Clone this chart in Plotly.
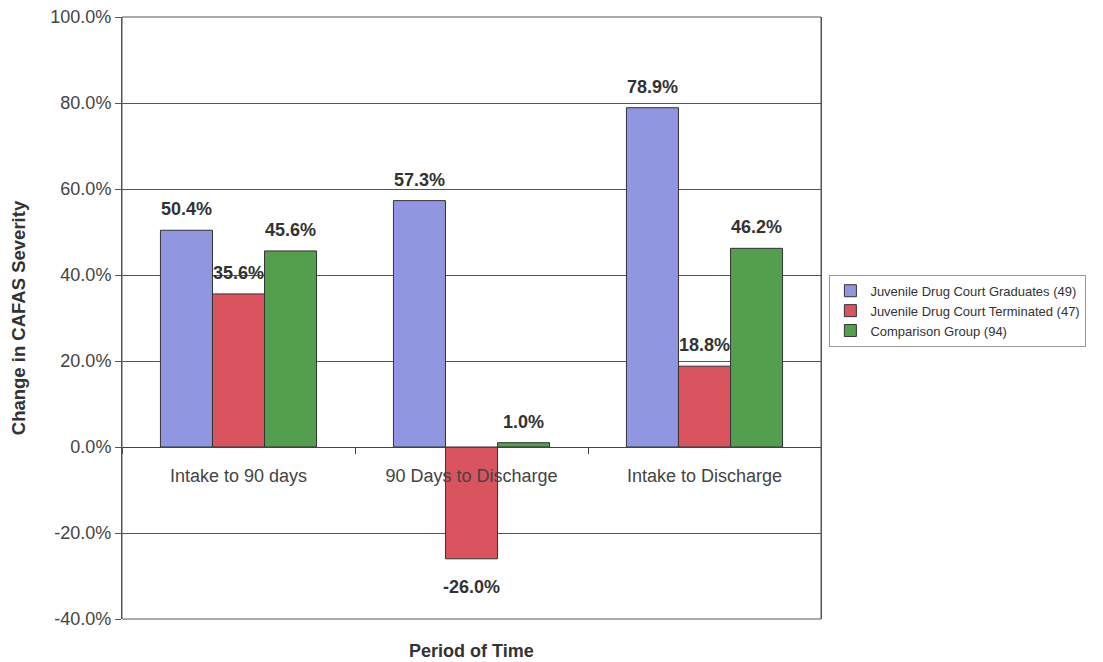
import plotly.graph_objects as go

categories = ["Intake to 90 days", "90 Days to Discharge", "Intake to Discharge"]
series_names = [
    "Juvenile Drug Court Graduates (49)",
    "Juvenile Drug Court Terminated (47)",
    "Comparison Group (94)",
]
graduates = [50.4, 57.3, 78.9]
terminated = [35.6, -26.0, 18.8]
comparison = [45.6, 1.0, 46.2]
y_ticks = [-40, -20, 0, 20, 40, 60, 80, 100]

colors = ["#9097E0", "#D9545F", "#52A04E"]
series_values = [graduates, terminated, comparison]

fig = go.Figure()
for name, vals, col in zip(series_names, series_values, colors):
    fig.add_trace(go.Bar(
        x=categories, y=vals, name=name,
        marker=dict(color=col, line=dict(color="#333333", width=1)),
    ))

# data labels
bar_px = 52
annotations = []
for i, vals in enumerate(series_values):
    for c, v in zip(categories, vals):
        annotations.append(dict(
            x=c, y=v, xref="x", yref="y", text=f"<b>{v:.1f}%</b>", showarrow=False,
            xshift=(i - 1) * bar_px, yshift=21 if v >= 0 else -28,
            font=dict(family="Arial, Liberation Sans", size=18, color="#333333"),
        ))
annotations.append(dict(
    x=0.5, y=0, xref="paper", yref="paper", text="<b>Period of Time</b>",
    showarrow=False, yanchor="middle", yshift=-32,
    font=dict(family="Arial, Liberation Sans", size=18, color="#333333"),
))

fig.update_layout(
    width=1103, height=662,
    margin=dict(l=122, r=282, t=17, b=43, autoexpand=False),
    paper_bgcolor="white", plot_bgcolor="white",
    barmode="group", bargap=0.33, bargroupgap=0,
    font=dict(family="Arial, Liberation Sans", color="#444444"),
    annotations=annotations,
    shapes=[dict(type="rect", xref="paper", yref="paper", x0=0, x1=1, y0=0, y1=1,
                 line=dict(color="#555555", width=1), layer="above")],
    legend=dict(
        x=1.012, y=0.512, xanchor="left", yanchor="middle",
        bordercolor="#999999", borderwidth=1, bgcolor="white",
        font=dict(size=13, color="#333333"), itemwidth=30,
        traceorder="normal",
    ),
    xaxis=dict(
        anchor="free", position=40 / 140, automargin=False,
        showline=True, linecolor="#444444", linewidth=1,
        ticks="outside", ticklen=6, tickcolor="#444444", tickson="boundaries",
        ticklabelstandoff=12,
        tickfont=dict(size=18, color="#444444"), showgrid=False,
    ),
    yaxis=dict(
        range=[-40, 100], tickvals=y_ticks, automargin=False,
        ticktext=[f"{t:.1f}%" for t in y_ticks],
        showgrid=True, gridcolor="#555555", gridwidth=1,
        zeroline=False, ticklabeloverflow="allow",
        showline=True, linecolor="#555555", mirror=True,
        ticks="outside", ticklen=6, tickcolor="#555555",
        tickfont=dict(size=18, color="#444444"),
        title=dict(text="<b>Change in CAFAS Severity</b>", standoff=19,
                   font=dict(size=18.5, color="#333333")),
    ),
)

fig.write_html("out.html", config={"displayModeBar": False},
               post_script="document.body.style.margin='0';")
